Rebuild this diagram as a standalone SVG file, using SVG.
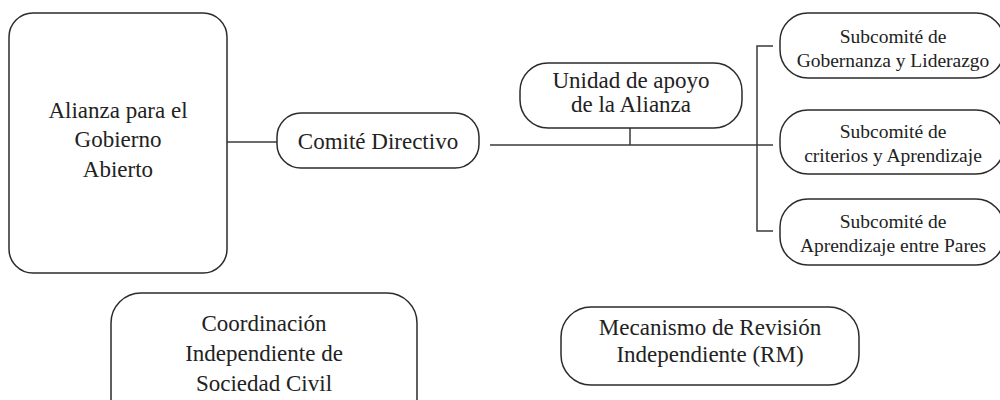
<svg xmlns="http://www.w3.org/2000/svg" width="1000" height="400" viewBox="0 0 1000 400">
<style>
.box{fill:#fff;stroke:#2b2b2b;stroke-width:1.5}
.ln{fill:none;stroke:#3a3a3a;stroke-width:1.5}
.t{font-family:'Liberation Serif',Tinos,'Times New Roman','DejaVu Serif',serif;font-size:23px;fill:#222;text-anchor:middle}
.s{font-family:'Liberation Serif',Tinos,'Times New Roman','DejaVu Serif',serif;font-size:19.5px;fill:#222;text-anchor:middle}
</style>
<rect width="1000" height="400" fill="#fff"/>
<g id="connectors">
<line class="ln" x1="227" y1="142" x2="277" y2="142"/>
<line class="ln" x1="490" y1="145" x2="773" y2="145"/>
<line class="ln" x1="630" y1="128" x2="630" y2="145"/>
<polyline class="ln" points="773,46 757,46 757,231 773,231"/>
</g>
<g id="alianza">
<rect class="box" x="9" y="13" width="218" height="260" rx="24"/>
<text class="t" x="118" y="118">Alianza para el</text>
<text class="t" x="118" y="147">Gobierno</text>
<text class="t" x="118" y="177">Abierto</text>
</g>
<g id="comite">
<rect class="box" x="277" y="113" width="202" height="55" rx="24"/>
<text class="t" x="378" y="149">Comité Directivo</text>
</g>
<g id="unidad">
<rect class="box" x="520" y="63" width="222" height="65" rx="28"/>
<text class="t" x="631" y="88">Unidad de apoyo</text>
<text class="t" x="631" y="112">de la Alianza</text>
</g>
<g id="sub1">
<rect class="box" x="780" y="13" width="224" height="65" rx="28"/>
<text class="s" x="893" y="43">Subcomité de</text>
<text class="s" x="893" y="67">Gobernanza y Liderazgo</text>
</g>
<g id="sub2">
<rect class="box" x="780" y="110" width="224" height="64" rx="28"/>
<text class="s" x="893" y="138">Subcomité de</text>
<text class="s" x="893" y="162">criterios y Aprendizaje</text>
</g>
<g id="sub3">
<rect class="box" x="780" y="199" width="224" height="66" rx="28"/>
<text class="s" x="893" y="228">Subcomité de</text>
<text class="s" x="893" y="252">Aprendizaje entre Pares</text>
</g>
<g id="coordinacion">
<rect class="box" x="111" y="293" width="306" height="140" rx="30"/>
<text class="t" x="264" y="331">Coordinación</text>
<text class="t" x="264" y="361">Independiente de</text>
<text class="t" x="264" y="391">Sociedad Civil</text>
</g>
<g id="mecanismo">
<rect class="box" x="561" y="307" width="298" height="78" rx="30"/>
<text class="t" x="710" y="335">Mecanismo de Revisión</text>
<text class="t" x="710" y="362">Independiente (RM)</text>
</g>
</svg>
